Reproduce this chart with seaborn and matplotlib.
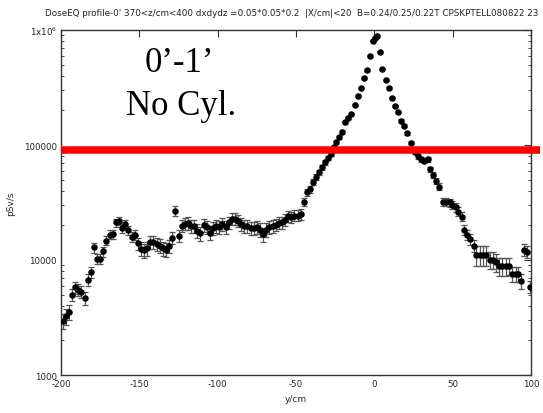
import numpy as np
import pandas as pd
import matplotlib
matplotlib.use("Agg")
import matplotlib.pyplot as plt
import seaborn as sns
from matplotlib.ticker import FixedLocator, FixedFormatter, LogLocator, NullFormatter

# ---------------- data ----------------
y_cm = [-199, -197, -195, -193, -191, -189, -187, -185, -183, -181,
        -179, -177, -175, -173, -171, -169, -167, -165, -163, -161,
        -159, -157, -155, -153, -151, -149, -147, -145, -143, -141,
        -139, -137, -135, -133, -131, -129, -127, -125, -123, -121,
        -119, -117, -115, -113, -111, -109, -107, -105, -103, -101,
        -99, -97, -95, -93, -91, -89, -87, -85, -83, -81,
        -79, -77, -75, -73, -71, -69, -67, -65, -63, -61,
        -59, -57, -55, -53, -51, -49, -47, -45, -43, -41.3,
        -39.1, -37, -35.3, -33.4, -31.7, -29.6, -27.9, -26, -24.3, -22.6,
        -20.6, -18.5, -16.8, -15.1, -12.6, -10.5, -8.8, -6.6, -4.5, -2.8,
        -0.9, 0.2, 1.9, 3.4, 5.1, 7.6, 9.4, 11.3, 13.4, 15.1,
        16.8, 19, 21, 23.2, 25.7, 27.8, 30, 32, 34, 35.3,
        37.4, 39.3, 41.2, 43.8, 45.9, 48, 49.7, 51.9, 53.6, 55.7,
        57.4, 59.1, 61.2, 63.4, 65, 67.2, 69.3, 71.4, 73.6, 75.7,
        77.4, 79.5, 81.6, 83.8, 85.9, 88, 90.2, 91.9, 93.8, 95.5,
        97.6, 99.5]

dose = [2960, 3230, 3550, 5000, 5770, 5500, 5300, 4700, 6750, 7800,
        12900, 10300, 10200, 11900, 14700, 16600, 16800, 21200, 21900, 19000,
        20600, 18300, 15900, 16600, 14000, 12500, 12100, 12700, 14300, 14300,
        13800, 13300, 12600, 12300, 13300, 15500, 26700, 16300, 19900, 20600,
        21000, 19900, 19900, 18000, 17100, 20200, 19200, 17300, 18900, 19900,
        19200, 20600, 19500, 21300, 22700, 22700, 21900, 20600, 19600, 19600,
        18900, 18900, 19200, 18400, 16800, 18400, 19200, 19600, 20200, 21000,
        21300, 22400, 24000, 23500, 24300, 24300, 25100, 32100, 38800, 41400,
        47400, 52400, 58000, 64000, 70700, 76600, 83400, 95400, 105600, 116600,
        130700, 157400, 170600, 186000, 222800, 268400, 316000, 382500, 452000, 598000,
        807000, 848000, 882000, 640000, 457000, 367000, 311000, 256000, 220000, 192000,
        162500, 147000, 126000, 105000, 87000, 80000, 75500, 73000, 75500, 61600,
        54800, 49000, 43400, 32100, 32100, 31700, 30000, 28700, 26300, 23800,
        18200, 16500, 15200, 13300, 11100, 11100, 11100, 11000, 10100, 10100,
        9560, 8810, 8810, 8810, 8900, 7550, 7550, 7550, 6600, 12200,
        11800, 5860]

rel_err = [0.15, 0.15, 0.15, 0.12, 0.12, 0.12, 0.12, 0.13, 0.12, 0.11,
           0.10, 0.10, 0.10, 0.10, 0.09, 0.09, 0.09, 0.08, 0.08, 0.09,
           0.08, 0.09, 0.10, 0.10, 0.12, 0.14, 0.14, 0.14, 0.13, 0.13,
           0.13, 0.14, 0.14, 0.14, 0.13, 0.12, 0.10, 0.12, 0.12, 0.12,
           0.13, 0.13, 0.13, 0.14, 0.14, 0.13, 0.13, 0.14, 0.13, 0.13,
           0.13, 0.13, 0.13, 0.12, 0.12, 0.12, 0.12, 0.13, 0.13, 0.13,
           0.13, 0.13, 0.13, 0.13, 0.14, 0.13, 0.13, 0.13, 0.12, 0.12,
           0.12, 0.12, 0.11, 0.11, 0.11, 0.11, 0.11, 0.08, 0.07, 0.07,
           0.06, 0.06, 0.05, 0.05, 0.05, 0.04, 0.04, 0.04, 0.03, 0.03,
           0.03, 0.03, 0.02, 0.02, 0.02, 0.02, 0.02, 0.02, 0.02, 0.02,
           0.02, 0.02, 0.02, 0.02, 0.02, 0.02, 0.02, 0.02, 0.02, 0.02,
           0.03, 0.03, 0.03, 0.03, 0.04, 0.05, 0.05, 0.05, 0.05, 0.05,
           0.06, 0.06, 0.07, 0.08, 0.08, 0.08, 0.08, 0.09, 0.09, 0.09,
           0.10, 0.10, 0.11, 0.12, 0.20, 0.20, 0.20, 0.20, 0.17, 0.17,
           0.17, 0.17, 0.17, 0.17, 0.17, 0.15, 0.15, 0.15, 0.15, 0.12,
           0.12, 0.12]

ytick_vals = [1000, 10000, 100000, 1000000]
ytick_text = ["1000", "10000", "100000", "1x10$^{6}$"]
xtick_vals = [-200, -150, -100, -50, 0, 50, 100]
xtick_text = ["-200", "-150", "-100", "-50", "0", "50", "100"]
red_level = 90000

title_txt = "DoseEQ profile-0' 370<z/cm<400 dxdydz =0.05*0.05*0.2  |X/cm|<20  B=0.24/0.25/0.22T CPSKPTELL080822 23"

df = pd.DataFrame({"y": y_cm, "dose": dose,
                   "err": np.array(dose) * np.array(rel_err)})

# ---------------- figure ----------------
sns.set_theme(style="white")
plt.rcParams['font.family'] = ['DejaVu Sans']

fig = plt.figure(figsize=(5.43, 4.14), dpi=100)
ax = fig.add_axes([61/543, 1 - 376/414, (531-61)/543, (376-31)/414])

ax.errorbar(df["y"], df["dose"], yerr=df["err"], fmt="none",
            ecolor="#555555", elinewidth=0.9, capsize=2.0, capthick=0.9, zorder=2)
sns.scatterplot(data=df, x="y", y="dose", ax=ax, color="black", s=22,
                edgecolor="black", linewidth=0, zorder=3, legend=False)

ax.set_yscale("log")
ax.set_xlim(-200, 100)
ax.set_ylim(1000, 1000000)

ax.xaxis.set_major_locator(FixedLocator(xtick_vals))
ax.xaxis.set_major_formatter(FixedFormatter(xtick_text))
ax.yaxis.set_major_locator(FixedLocator(ytick_vals))
ax.yaxis.set_major_formatter(FixedFormatter(ytick_text))
ax.yaxis.set_minor_locator(LogLocator(base=10, subs=np.arange(2, 10), numticks=20))
ax.yaxis.set_minor_formatter(NullFormatter())

ax.tick_params(axis="both", which="major", direction="in", length=5, width=0.8,
               top=True, right=True, labelsize=6.2, colors="#333333", pad=3)
ax.tick_params(axis="y", which="minor", direction="in", length=2.5, width=0.6,
               left=True, right=True)
for lab in ax.get_xticklabels() + ax.get_yticklabels():
    lab.set_color("#222222")
for sp in ax.spines.values():
    sp.set_color("#333333")
    sp.set_linewidth(1.0)

ax.set_xlabel("y/cm", fontsize=6.5, color="#222222", labelpad=4)
ax.set_ylabel("pSv/s", fontsize=6.5, color="#222222")
ax.yaxis.set_label_coords(-0.098, 0.5)
ax.set_title(title_txt, fontsize=6.3, color="#222222", pad=11, x=0.49)

# red reference line, extending a bit past the right frame
ax.axhline(red_level, xmin=0, xmax=(540-61)/(531-61), color="#ff0000",
           linewidth=5.4, clip_on=False, zorder=5, solid_capstyle="butt")

# big annotation text
serif = ["Liberation Serif", "DejaVu Serif"]
ax.text(0.252, 0.881, "0\u2019-1\u2019", transform=ax.transAxes, ha="center",
        va="baseline", fontsize=25, family=serif, color="black")
ax.text(0.256, 0.757, "No Cyl.", transform=ax.transAxes, ha="center",
        va="baseline", fontsize=25, family=serif, color="black")

fig.savefig("out.png", dpi=100)
